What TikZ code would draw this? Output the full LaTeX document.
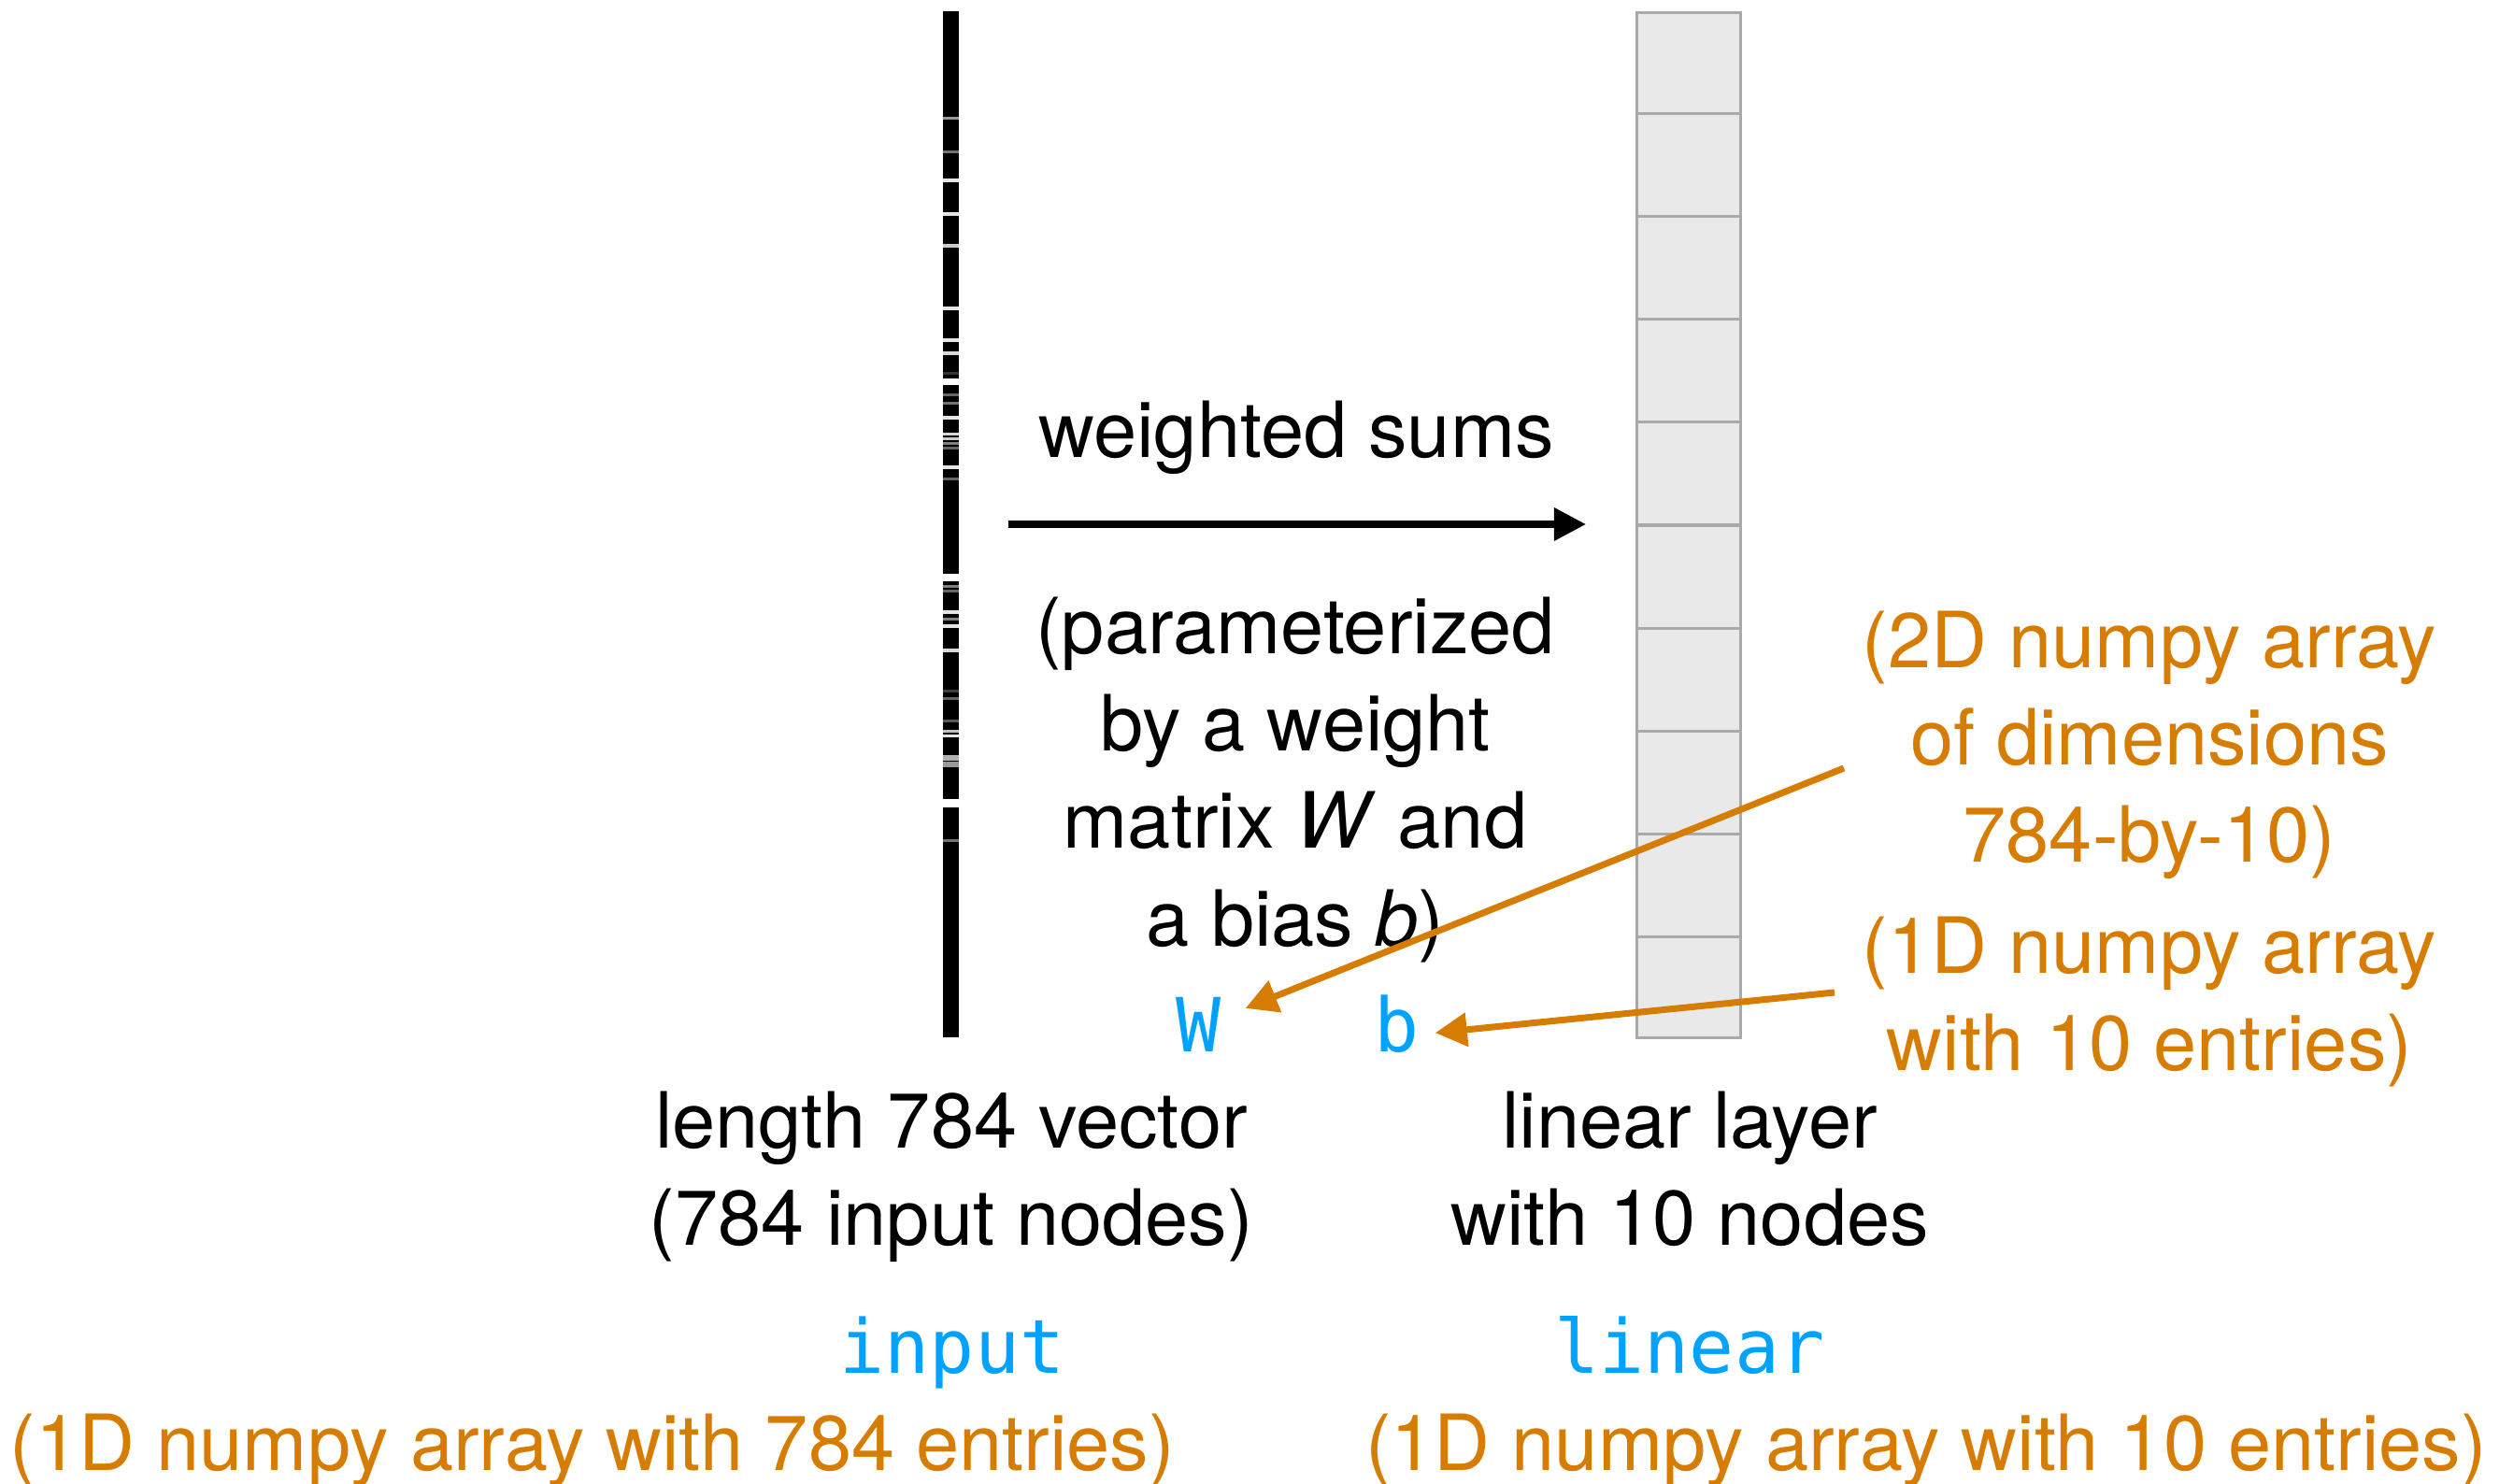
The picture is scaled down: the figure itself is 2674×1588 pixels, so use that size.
\documentclass[tikz,border=0pt]{standalone}
\usepackage{fontspec}
\setmainfont{TeX Gyre Heros}
\setmonofont{DejaVu Sans Mono}
\usetikzlibrary{arrows.meta,calc}

\definecolor{codeblue}{RGB}{0,162,255}
\definecolor{noteorange}{RGB}{214,124,0}
\definecolor{cellfill}{RGB}{233,233,233}
\definecolor{cellrule}{RGB}{168,170,170}

\begin{document}
\begin{tikzpicture}[x=0.01cm, y=-0.01cm,
  txt/.style={inner sep=0pt, anchor=base, font=\fontsize{23.6pt}{29.6pt}\selectfont},
  note/.style={txt, text=noteorange},
  code/.style={inner sep=0pt, anchor=base, text=codeblue,
               font=\ttfamily\fontsize{22.7pt}{28pt}\selectfont},
  flow/.style={line width=0.07cm, -{Triangle[length=0.34cm, width=0.34cm]}},
  pointer/.style={draw=noteorange, line width=0.07cm,
                  -{Triangle[length=0.34cm, width=0.35cm]}},
  cellline/.style={draw=cellrule, line width=0.03cm}
]
\useasboundingbox (0,0) rectangle (2674,1588);

% flattened input image: one thin column of 784 pixel values
\node[fill=black, inner sep=0pt, minimum width=0.17cm, minimum height=10.98cm]
  (vec) at (1017.5,561) {};
\foreach \yy/\hh/\ww in {127/3/60, 163/3/45, 193/4/90, 229/4/90, 263/4/80,
    330/4/90, 364/4/90, 378/4/85, 400/3/20, 409/7/100, 423/3/40, 432/3/45,
    447/4/90, 465/3/85, 470/3/80, 475/3/50, 480/3/40, 500/4/90, 513/3/40,
    618/8/100, 627/3/50, 632/3/40, 655/4/90, 662/3/50, 670/4/90, 696/4/85,
    739/3/25, 747/3/40, 771/3/35, 782/3/75, 787/3/90, 811/6/70, 818/6/60,
    859/9/100, 899/3/45}
  \fill[white!\ww!black] (1009,{\yy-\hh/2}) rectangle (1026,{\yy+\hh/2});

% linear layer: ten stacked cells
\node[draw=cellrule, line width=0.03cm, fill=cellfill, inner sep=0pt,
      minimum width=1.11cm, minimum height=10.97cm] (layer) at (1807,562) {};
\foreach \i in {1,...,9}
  \draw[cellline] ($(layer.north west)!\i/10!(layer.south west)$)
               -- ($(layer.north east)!\i/10!(layer.south east)$);

% weighted sums arrow
\draw[flow, shorten <=0.52cm, shorten >=0.53cm] (vec.east) -- (vec.east -| layer.west);

\node[txt] (ws) at (1387,489) {weighted sums};
\node[txt] (p1) at (1386,699) {(parameterized};
\node[txt] (p2) at (1386,803) {by a weight};
\node[txt] (p3) at (1386,907) {matrix \textit{W} and};
\node[txt] (p4) at (1386,1012) {a bias \textit{b})};

\node[code] (W) at (1283,1125) {W};
\node[code] (b) at (1495,1125) {b};

\node[txt] (vl1) at (1018,1228) {length 784 vector};
\node[txt] (vl2) at (1018,1332) {(784 input nodes)};
\node[txt] (ll1) at (1808,1228) {linear layer};
\node[txt] (ll2) at (1808,1332) {with 10 nodes};

\node[code] (inp) at (1019,1469) {input};
\node[code] (lin) at (1808,1469) {linear};

\node[note] (inpnote) at (634,1573) {(1D numpy array with 784 entries)};
\node[note] (linnote) at (2061,1573) {(1D numpy array with 10 entries)};

\node[note] (wn1) at (2300,714) {(2D numpy array};
\node[note] (wn2) at (2300,818) {of dimensions};
\node[note] (wn3) at (2300,922) {784-by-10)};
\node[note] (bn1) at (2300,1041) {(1D numpy array};
\node[note] (bn2) at (2300,1145) {with 10 entries)};

% annotation pointers
\coordinate (wsrc) at (1973,822);
\coordinate (bsrc) at (1963,1062);
\draw[pointer] (wsrc) -- ([shift={(0.25cm,0.17cm)}]W.east);
\draw[pointer] (bsrc) -- ([shift={(0.16cm,-0.1cm)}]b.east);
\end{tikzpicture}
\end{document}
